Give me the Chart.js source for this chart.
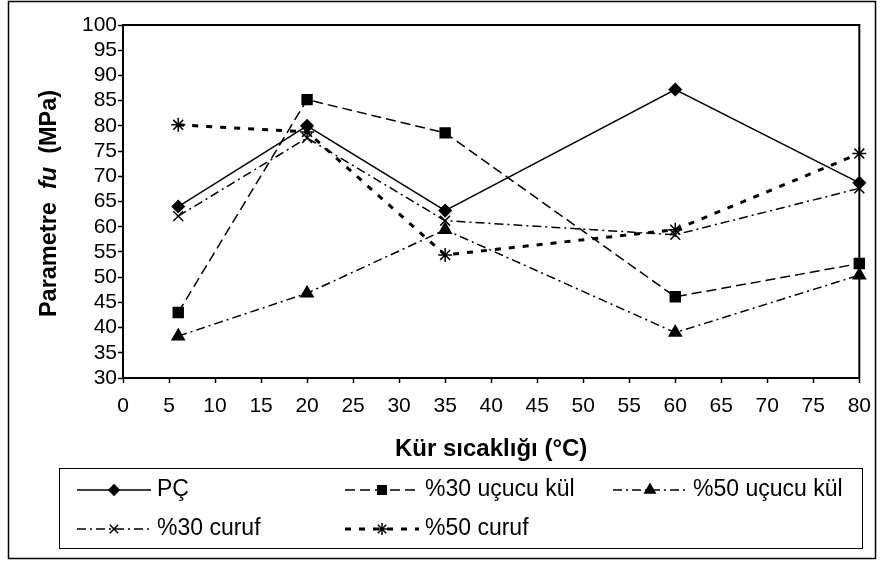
<!DOCTYPE html>
<html>
<head>
<meta charset="utf-8">
<script src="https://cdn.jsdelivr.net/npm/chart.js@4/dist/chart.umd.min.js"></script>
<style>
    html, body { margin: 0; padding: 0; background: #fff; }
    #wrap { width: 882px; height: 562px; }
</style>
</head>
<body>
<div id="wrap"><canvas id="fuChart" width="882" height="562"></canvas></div>
<script>
// kür sıcaklıkları (°C)
const temperatures = [6, 20, 35, 60, 80];

// seriler (MPa)
const pcValues   = [64.0, 80.0, 63.2, 87.2, 68.7];
const ucucuKul30 = [43.0, 85.2, 78.6, 46.1, 52.7];
const ucucuKul50 = [38.3, 46.8, 59.4, 39.0, 50.4];
const curuf30    = [62.1, 77.6, 61.2, 58.4, 67.6];
const curuf50    = [80.2, 78.8, 54.4, 59.4, 74.5];

const seriesLabels = ['PÇ', '%30 uçucu kül', '%50 uçucu kül', '%30 curuf', '%50 curuf'];

// eksenler
const xMin = 0, xMax = 80, xStep = 5;
const yMin = 30, yMax = 100, yStep = 5;
const xTitle = 'Kür sıcaklığı (°C)';
const yTitleParts = ['Parametre  ', 'fu', '  (MPa)'];

const FONT = "'Liberation Sans', Arial, Helvetica, sans-serif";
Chart.defaults.font.family = FONT;
Chart.defaults.color = '#000';

function toPoints(values) {
    return temperatures.map((t, i) => ({ x: t, y: values[i] }));
}

function serie(label, values, style, radius, dash, width) {
    return {
        label: label,
        data: toPoints(values),
        showLine: true,
        tension: 0,
        clip: false,
        borderColor: '#000',
        backgroundColor: '#000',
        borderWidth: width,
        borderDash: dash,
        pointStyle: style,
        pointRadius: radius,
        pointHoverRadius: radius,
        pointBorderWidth: 1.5,
        pointBackgroundColor: '#000',
        pointBorderColor: '#000'
    };
}

// çerçeve, üst/sağ kenar, y başlığı ve lejant
const framePlugin = {
    id: 'frame',
    beforeDraw(chart) {
        const ctx = chart.ctx;
        ctx.save();
        ctx.fillStyle = '#fff';
        ctx.fillRect(0, 0, chart.width, chart.height);
        ctx.strokeStyle = '#000';
        ctx.lineWidth = 1.5;
        ctx.strokeRect(8.5, 1.5, 867, 557);
        ctx.restore();
    },
    beforeDatasetsDraw(chart) {
        const { ctx, chartArea } = chart;
        ctx.save();
        ctx.strokeStyle = '#000';
        ctx.lineWidth = 2;
        ctx.beginPath();
        ctx.moveTo(chartArea.left, chartArea.top);
        ctx.lineTo(chartArea.right, chartArea.top);
        ctx.lineTo(chartArea.right, chartArea.bottom);
        ctx.stroke();
        ctx.restore();
    },
    afterDraw(chart) {
        const ctx = chart.ctx;
        const area = chart.chartArea;

        // y başlığı (fu italik)
        ctx.save();
        ctx.translate(50, (area.top + area.bottom) / 2 + 2);
        ctx.rotate(-Math.PI / 2);
        ctx.fillStyle = '#000';
        ctx.textBaseline = 'middle';
        ctx.textAlign = 'left';
        const fonts = ['bold 23.5px ' + FONT, 'italic bold 23.5px ' + FONT, 'bold 23.5px ' + FONT];
        let total = 0;
        const widths = yTitleParts.map((txt, i) => {
            ctx.font = fonts[i];
            const w = ctx.measureText(txt).width;
            total += w;
            return w;
        });
        let x = -total / 2;
        yTitleParts.forEach((txt, i) => {
            ctx.font = fonts[i];
            ctx.fillText(txt, x, 0);
            x += widths[i];
        });
        ctx.restore();

        // lejant
        ctx.save();
        ctx.strokeStyle = '#000';
        ctx.lineWidth = 1;
        ctx.strokeRect(59.5, 468.5, 803, 80);
        const cols = [77, 345, 613];
        const rows = [490, 529];
        chart.data.datasets.forEach((ds, i) => {
            const lx = cols[i % 3];
            const ly = rows[Math.floor(i / 3)];
            ctx.save();
            ctx.strokeStyle = '#000';
            ctx.lineWidth = ds.borderWidth;
            ctx.setLineDash(ds.borderDash);
            ctx.beginPath();
            ctx.moveTo(lx, ly);
            ctx.lineTo(lx + 74, ly);
            ctx.stroke();
            ctx.restore();
            ctx.save();
            ctx.fillStyle = '#000';
            ctx.strokeStyle = '#000';
            ctx.lineWidth = 1.5;
            Chart.helpers.drawPoint(ctx, {
                pointStyle: ds.pointStyle,
                radius: ds.pointRadius * 0.85,
                rotation: 0,
                borderWidth: 1.5
            }, lx + 37, ly);
            ctx.restore();
            ctx.fillStyle = '#000';
            ctx.font = '23px ' + FONT;
            ctx.textBaseline = 'middle';
            ctx.textAlign = 'left';
            ctx.fillText(ds.label, lx + 80, ly);
        });
        ctx.restore();
    }
};

const ctx = document.getElementById('fuChart').getContext('2d');
const fuChart = new Chart(ctx, {
    type: 'scatter',
    data: {
        datasets: [
            serie(seriesLabels[0], pcValues, 'rectRot', 6, [], 1.5),
            serie(seriesLabels[1], ucucuKul30, 'rect', 7, [10, 5], 1.5),
            serie(seriesLabels[2], ucucuKul50, 'triangle', 7, [9, 4, 2, 4], 1.5),
            serie(seriesLabels[3], curuf30, 'crossRot', 7, [9, 4, 2, 4], 1.5),
            serie(seriesLabels[4], curuf50, 'star', 7, [6, 8], 3)
        ]
    },
    options: {
        animation: false,
        responsive: false,
        events: [],
        layout: {
            padding: { left: 0, top: 25, right: 22, bottom: 98 }
        },
        plugins: {
            legend: { display: false },
            tooltip: { enabled: false }
        },
        scales: {
            x: {
                type: 'linear',
                min: xMin,
                max: xMax,
                afterFit(scale) { scale.height = 86; },
                ticks: { stepSize: xStep, autoSkip: false, font: { size: 21 }, color: '#000', padding: 11, maxRotation: 0 },
                grid: { drawOnChartArea: false, drawTicks: true, tickLength: 5, tickColor: '#000', tickWidth: 1.5 },
                border: { display: true, color: '#000', width: 2 },
                title: {
                    display: true,
                    text: xTitle,
                    font: { size: 24, weight: 'bold' },
                    color: '#000',
                    padding: { top: 0, bottom: 0 }
                }
            },
            y: {
                type: 'linear',
                min: yMin,
                max: yMax,
                afterFit(scale) { scale.width = 123; },
                ticks: { stepSize: yStep, autoSkip: false, font: { size: 21 }, color: '#000', padding: 1 },
                grid: { drawOnChartArea: false, drawTicks: true, tickLength: 5, tickColor: '#000', tickWidth: 1.5 },
                border: { display: true, color: '#000', width: 2 }
            }
        }
    },
    plugins: [framePlugin]
});
</script>
</body>
</html>
